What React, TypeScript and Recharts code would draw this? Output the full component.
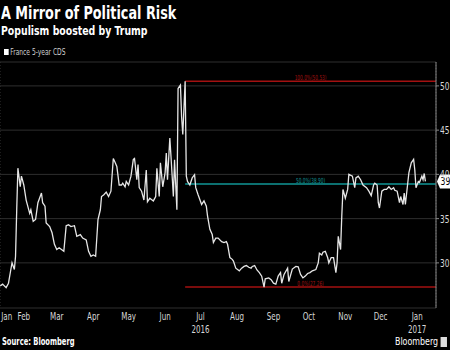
import { LineChart, Line, XAxis, YAxis, CartesianGrid, ReferenceLine } from "recharts";

// days counted from 1 Jan 2016 (Jan 1 = 0)
const days = [
  27, 29, 32, 34, 36, 37, 39, 40, 41, 42, 44, 45, 47, 49, 52, 53, 55, 57, 59, 62,
  63, 65, 66, 69, 71, 73, 75, 77, 79, 81, 83, 85, 87, 90, 92, 95, 97, 100, 102, 104,
  106, 108, 110, 112, 113, 115, 117, 119, 121, 123, 124, 126, 128, 130, 131, 133, 134, 136, 138, 140,
  141, 143, 144, 145, 147, 149, 151, 152, 154, 157, 159, 160, 162, 163, 165, 167, 168, 169, 171, 172,
  174, 175, 177, 178, 180, 181, 182, 184, 185, 186, 188, 190, 192, 193, 195, 198, 200, 202, 203, 205,
  207, 208, 210, 212, 215, 217, 219, 220, 222, 224, 225, 227, 230, 232, 234, 236, 238, 240, 241, 243,
  245, 247, 249, 251, 252, 255, 257, 259, 261, 263, 265, 266, 268, 271, 272, 275, 278, 280, 282, 284,
  286, 288, 290, 292, 295, 297, 298, 300, 301, 303, 305, 306, 308, 310, 312, 313, 314, 316, 317, 318,
  320, 322, 323, 326, 328, 329, 331, 333, 335, 338, 340, 342, 344, 345, 347, 348, 349, 351, 353, 355,
  357, 359, 361, 362, 364, 366, 367, 369, 370, 371, 373, 374, 376, 378, 379, 380, 382, 383, 385, 386,
  387, 388,
];

const cds = [
  27.4, 27.6, 27.2, 27.7, 29.25, 30.0, 29.25, 30.75, 36.0, 40.7, 38.6, 39.8, 38.8, 37.1, 35.6, 36.0, 34.7, 34.9, 36.8, 37.9,
  36.8, 36.4, 34.5, 34.1, 33.4, 32.1, 31.5, 31.7, 31.5, 31.3, 34.2, 34.3, 34.1, 34.2, 33.0, 33.2, 32.8, 32.6, 31.3, 30.75,
  30.9, 30.75, 34.9, 36.0, 37.5, 37.7, 38.0, 37.5, 38.1, 41.8, 41.5, 40.9, 38.8, 38.8, 39.0, 38.6, 39.2, 38.8, 39.8, 41.7,
  41.8, 39.4, 41.1, 38.5, 38.1, 37.1, 40.5, 36.9, 37.3, 37.0, 37.5, 40.7, 37.5, 41.3, 38.6, 40.2, 42.4, 39.4, 44.1, 42.0,
  37.5, 41.65, 36.0, 49.7, 50.1, 46.5, 44.5, 50.53, 39.8, 39.2, 38.8, 39.6, 39.96, 38.5, 37.7, 36.6, 37.0, 36.4, 35.3, 33.8,
  33.2, 32.3, 32.8, 32.8, 32.4, 32.3, 32.4, 32.1, 30.6, 30.4, 30.2, 29.4, 29.1, 29.4, 29.6, 29.7, 29.5, 29.4, 29.6, 29.7,
  29.2, 28.9, 28.5, 27.26, 28.2, 28.3, 28.1, 27.7, 27.6, 28.5, 28.9, 27.7, 28.7, 29.4, 27.9, 29.3, 29.6, 29.55, 28.7, 28.3,
  28.5, 28.8, 28.9, 29.1, 29.25, 30.0, 31.1, 30.9, 31.2, 31.3, 30.6, 30.0, 30.6, 30.6, 28.9, 30.0, 33.0, 31.5, 35.3, 38.3,
  37.3, 38.3, 40.0, 39.8, 38.5, 39.6, 39.8, 39.4, 38.8, 38.5, 38.1, 37.6, 38.8, 39.0, 38.8, 36.8, 36.2, 38.1, 38.3, 38.3,
  38.6, 38.3, 38.5, 38.2, 38.1, 36.8, 37.5, 36.6, 37.9, 36.6, 39.0, 40.2, 41.3, 41.7, 40.5, 38.5, 39.2, 39.1, 39.8, 39.4,
  40.1, 39.2,
];

const monthStarts = [31, 60, 91, 121, 152, 182, 213, 244, 274, 305, 335, 366, 397];
const monthLabelDays = [32.5, 47, 75, 106, 136, 167, 197, 228, 259, 289, 320, 350, 381];
const monthNames = ["Jan", "Feb", "Mar", "Apr", "May", "Jun", "Jul", "Aug", "Sep", "Oct", "Nov", "Dec", "Jan"];
const yearNames = ["", "", "", "", "", "", "2016", "", "", "", "", "", "2017"];
const yTicks = [30, 35, 40, 45, 50];

const fibNames = ["100.0%(50.53)", "50.0%(38.90)", "0.0%(27.26)"];
const fibValues = [50.53, 38.9, 27.26];
const fibStartDay = 184;
const fibColors = ["#a31111", "#119696", "#a31111"];

const data = days.map((d, i) => ({ day: d, cds: cds[i] }));
const lastValue = cds[cds.length - 1];

const FONT = '"DejaVu Sans Condensed", "DejaVu Sans", sans-serif';
const X_DOMAIN = [26.8, 397];

function NText({ x, y, scale, size, fill, anchor = "start", weight = 400, children }: any) {
  return (
    <text
      transform={`translate(${x},${y}) scale(${scale},1)`}
      textAnchor={anchor}
      fontSize={size}
      fontWeight={weight}
      fill={fill}
      fontFamily={FONT}
    >
      {children}
    </text>
  );
}

function MonthTick(props: any) {
  const { x, y, payload } = props;
  const i = monthLabelDays.indexOf(payload.value);
  return (
    <g>
      <NText x={x} y={y + 12} scale={0.72} size={11} fill="#d8d8d8" anchor="middle">
        {monthNames[i]}
      </NText>
      {yearNames[i] ? (
        <NText x={x} y={y + 25} scale={0.72} size={11} fill="#d8d8d8" anchor="middle">
          {yearNames[i]}
        </NText>
      ) : null}
    </g>
  );
}

function ValueTick(props: any) {
  const { x, y, payload } = props;
  return (
    <NText x={x} y={y + 4} scale={0.75} size={11} fill="#d8d8d8">
      {payload.value}
    </NText>
  );
}

function fibLabel(i: number) {
  return (props: any) => {
    const vb = props.viewBox || {};
    return (
      <NText x={vb.x + vb.width / 2} y={vb.y - 1} scale={0.68} size={7} fill={fibColors[i]} anchor="middle">
        {fibNames[i]}
      </NText>
    );
  };
}

function renderBadge(props: any) {
  const vb = props.viewBox || {};
  const x0 = vb.x + vb.width;
  const y0 = vb.y;
  return (
    <g>
      <path
        d={`M${x0 + 1},${y0} L${x0 + 4},${y0 - 7} L${x0 + 15},${y0 - 7} L${x0 + 15},${y0 + 7} L${x0 + 4},${y0 + 7} Z`}
        fill="#ffffff"
      />
      <NText x={x0 + 9.5} y={y0 + 4} scale={0.78} size={11} fill="#000" anchor="middle">
        {Math.round(lastValue)}
      </NText>
    </g>
  );
}

const squeeze = (s: number, origin = "left top") => ({
  transform: `scaleX(${s})`,
  transformOrigin: origin,
  whiteSpace: "nowrap" as const,
});

export default function App() {
  return (
    <div
      style={{
        position: "absolute",
        left: 0,
        top: 0,
        width: 450,
        height: 350,
        background: "#000",
        overflow: "hidden",
        fontFamily: FONT,
      }}
    >
      <div style={{ position: "absolute", left: 1, top: 2, color: "#fff", fontSize: 18, fontWeight: 700, ...squeeze(0.79) }}>
        A Mirror of Political Risk
      </div>
      <div style={{ position: "absolute", left: 1, top: 23, color: "#fff", fontSize: 13, fontWeight: 700, ...squeeze(0.8) }}>
        Populism boosted by Trump
      </div>
      <div
        style={{
          position: "absolute",
          left: 4,
          top: 47,
          color: "#cfcfcf",
          fontSize: 8.5,
          display: "flex",
          alignItems: "center",
          ...squeeze(0.78),
        }}
      >
        <span style={{ display: "inline-block", width: 6, height: 6, background: "#fff", marginRight: 2 }} />
        France 5-year CDS
      </div>
      <LineChart
        width={450}
        height={350}
        data={data}
        margin={{ top: 62, right: 0, left: 0, bottom: 12 }}
        style={{ position: "absolute", left: 0, top: 0 }}
      >
        <CartesianGrid horizontal={true} vertical={false} stroke="#2e2e2e" strokeWidth={1} />
        <CartesianGrid horizontal={false} vertical={true} stroke="#3a3a3a" strokeDasharray="1 2" />
        <XAxis
          dataKey="day"
          type="number"
          domain={X_DOMAIN}
          ticks={monthStarts}
          tick={false}
          tickLine={{ stroke: "#777" }}
          tickSize={3}
          axisLine={{ stroke: "#777" }}
          height={0}
          allowDataOverflow
        />
        <XAxis
          xAxisId="labels"
          dataKey="day"
          type="number"
          domain={X_DOMAIN}
          ticks={monthLabelDays}
          tick={<MonthTick />}
          tickLine={false}
          tickSize={0}
          tickMargin={0}
          axisLine={false}
          interval={0}
          height={30}
          allowDataOverflow
        />
        <YAxis
          orientation="right"
          type="number"
          domain={[24.9, 52.7]}
          ticks={yTicks}
          width={14}
          tickSize={3}
          tickMargin={1}
          tick={<ValueTick />}
          tickLine={{ stroke: "#888" }}
          axisLine={{ stroke: "#888" }}
          allowDataOverflow
        />
        {fibValues.map((v, i) => (
          <ReferenceLine
            key={fibNames[i]}
            segment={[
              { x: fibStartDay, y: v },
              { x: X_DOMAIN[1], y: v },
            ]}
            stroke={fibColors[i]}
            strokeWidth={1.5}
            label={fibLabel(i)}
          />
        ))}
        <ReferenceLine y={lastValue} stroke="transparent" label={renderBadge} />
        <Line
          type="linear"
          dataKey="cds"
          stroke="#e6e6e6"
          strokeWidth={1.3}
          dot={false}
          isAnimationActive={false}
        />
      </LineChart>
      <div style={{ position: "absolute", left: 2, top: 336, color: "#fff", fontSize: 10, fontWeight: 700, ...squeeze(0.75) }}>
        Source: Bloomberg
      </div>
      <div
        style={{
          position: "absolute",
          right: 3,
          top: 335,
          color: "#fff",
          fontSize: 11,
          display: "flex",
          alignItems: "center",
          ...squeeze(0.8, "right top"),
        }}
      >
        Bloomberg
        <span style={{ display: "inline-block", width: 8, height: 10, background: "#ddd", marginLeft: 3 }} />
      </div>
    </div>
  );
}
